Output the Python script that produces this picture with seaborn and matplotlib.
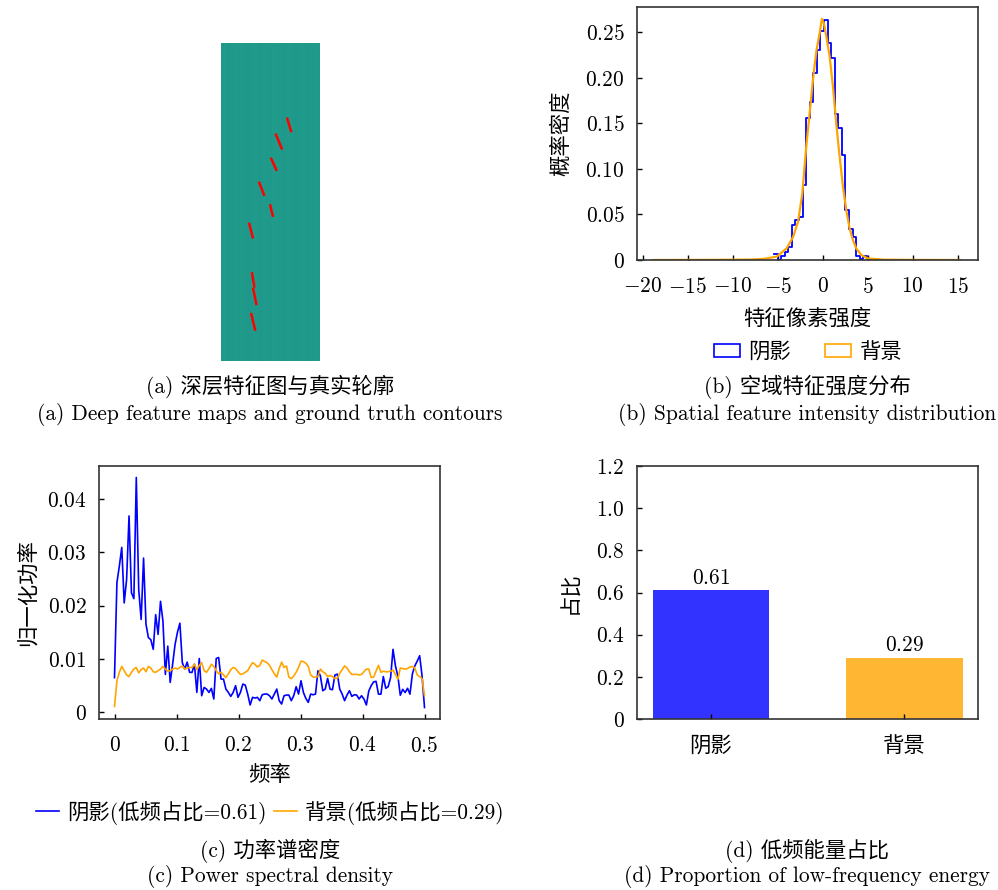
import numpy as np
import pandas as pd
import matplotlib
matplotlib.use('Agg')
import matplotlib.pyplot as plt
import seaborn as sns
from matplotlib.patches import Patch
from matplotlib.lines import Line2D
from matplotlib.ticker import FuncFormatter, MultipleLocator

# ---------------- data ----------------
# (a) feature map column profile (normalised intensity) and contour dashes
feature_col_profile = [0.54, 0.545, 0.535, 0.54, 0.545, 0.54, 0.55, 0.54, 0.535, 0.54,
                       0.545, 0.54, 0.535, 0.545, 0.54, 0.54, 0.545, 0.55, 0.54, 0.535,
                       0.54, 0.545, 0.54, 0.535, 0.54, 0.545, 0.54, 0.535, 0.54, 0.545, 0.54]
feature_rows = 100
contour_x0 = [20.76, 17.22, 15.75, 11.99, 15.44, 8.86, 9.71, 10.11, 9.49]
contour_x1 = [21.92, 19.00, 17.31, 13.46, 16.19, 9.93, 10.43, 11.05, 10.65]
contour_y0 = [23.75, 28.80, 36.40, 43.95, 51.10, 56.90, 72.50, 77.40, 85.30]
contour_y1 = [27.66, 33.10, 39.85, 47.73, 54.30, 61.10, 76.60, 82.10, 90.20]

# (b) spatial intensity distribution
shadow_bin_start = -5.41
shadow_bin_width = 0.397
shadow_density = [0.0066, 0.0, 0.0044, 0.0090, 0.0139, 0.0385, 0.0440, 0.0477, 0.0825,
                  0.1560, 0.1740, 0.2060, 0.2310, 0.2520, 0.2640, 0.2380, 0.2220, 0.1600,
                  0.1450, 0.1150, 0.0545, 0.0337, 0.0248, 0.0040, 0.0015, 0.0040, 0.0008]
bg_x = [-18.8, -12.0, -8.0, -6.6, -5.1, -4.0, -3.3, -2.74, -2.26, -1.82, -1.34, -1.08,
        -0.71, -0.34, -0.08, 0.14, 0.40, 0.77, 1.14, 1.51, 1.88, 2.25, 2.62, 2.99, 3.36,
        3.73, 4.29, 5.0, 6.7, 10.0, 15.3]
bg_density = [0.0, 0.0002, 0.0005, 0.0012, 0.0037, 0.0128, 0.025, 0.042, 0.073, 0.125,
              0.172, 0.198, 0.229, 0.249, 0.265, 0.260, 0.246, 0.224, 0.191, 0.150, 0.114,
              0.081, 0.055, 0.035, 0.022, 0.0128, 0.0055, 0.0018, 0.0004, 0.0001, 0.0]

# (c) normalised power spectral density (256-sample signal, 129 rfft bins)
psd_n = 256
psd_shadow = [
    0.0065, 0.0243, 0.0274, 0.0309, 0.0205, 0.0249, 0.0368, 0.0224, 0.0213, 0.0440,
    0.0230, 0.0174, 0.0289, 0.0165, 0.0140, 0.0136, 0.0118, 0.0183, 0.0146, 0.0208,
    0.0171, 0.0071, 0.0124, 0.0056, 0.0090, 0.0127, 0.0150, 0.0167, 0.0093, 0.0081,
    0.0094, 0.0075, 0.00747, 0.00902, 0.00373, 0.01008, 0.00311, 0.00466, 0.00435, 0.00373,
    0.00448, 0.00249, 0.01008, 0.01027, 0.00622, 0.00622, 0.00435, 0.00373, 0.00298, 0.00373,
    0.00498, 0.0028, 0.00373, 0.00529, 0.0051, 0.00342, 0.00137, 0.0028, 0.00267, 0.0028,
    0.00218, 0.00329, 0.00342, 0.00342, 0.00311, 0.00249, 0.00342, 0.00435, 0.00218, 0.00155,
    0.00311, 0.00323, 0.00323, 0.00218, 0.00311, 0.00479, 0.00342, 0.00591, 0.00373, 0.00261,
    0.00187, 0.00342, 0.00329, 0.00342, 0.00778, 0.00684, 0.00404, 0.00435, 0.00635, 0.00435,
    0.00423, 0.00697, 0.00716, 0.00435, 0.00342, 0.00218, 0.00323, 0.00404, 0.00298, 0.00329,
    0.00323, 0.00249, 0.00311, 0.00249, 0.00137, 0.0040, 0.0050, 0.0057, 0.0058, 0.0034,
    0.0034, 0.0067, 0.0045, 0.0048, 0.0065, 0.0118, 0.0087, 0.0068, 0.0032, 0.0043,
    0.0037, 0.0045, 0.0034, 0.0072, 0.0087, 0.0096, 0.0106, 0.0068, 0.0009]
psd_background = [
    0.0011, 0.0059, 0.0075, 0.0086, 0.0078, 0.0070, 0.0067, 0.0075, 0.0081, 0.0084,
    0.0074, 0.0080, 0.0083, 0.0076, 0.0086, 0.0083, 0.0076, 0.0075, 0.0078, 0.0081,
    0.0086, 0.0081, 0.0077, 0.0078, 0.0081, 0.0083, 0.0081, 0.0084, 0.0087, 0.0081,
    0.0083, 0.0084, 0.0084, 0.0090, 0.0080, 0.0088, 0.0093, 0.0078, 0.0075, 0.0082,
    0.0090, 0.0086, 0.0078, 0.0072, 0.0075, 0.0070, 0.0065, 0.0072, 0.0080, 0.0084,
    0.0082, 0.0076, 0.0071, 0.0072, 0.0075, 0.0078, 0.0086, 0.0093, 0.0090, 0.0085,
    0.0088, 0.0098, 0.0095, 0.0093, 0.0088, 0.0080, 0.0072, 0.0066, 0.0082, 0.0094,
    0.0084, 0.0087, 0.0066, 0.0063, 0.0068, 0.0075, 0.0084, 0.0096, 0.0095, 0.0092,
    0.0086, 0.0070, 0.0066, 0.0066, 0.0067, 0.0081, 0.0076, 0.0073, 0.0067, 0.0069,
    0.0067, 0.0063, 0.0064, 0.0073, 0.0080, 0.0087, 0.0083, 0.0076, 0.0071, 0.0071,
    0.0071, 0.0070, 0.0071, 0.0076, 0.0081, 0.0081, 0.0065, 0.0066, 0.0077, 0.0088,
    0.0075, 0.0077, 0.0076, 0.0076, 0.0077, 0.0079, 0.0071, 0.0062, 0.0083, 0.0082,
    0.0081, 0.0082, 0.0085, 0.0086, 0.0083, 0.0070, 0.0067, 0.0063, 0.0031]
low_freq_ratio = [0.61, 0.29]
class_labels = ['阴影', '背景']

# ---------------- style ----------------
plt.rcParams['font.family'] = ['cmr10', 'Noto Sans CJK SC']
plt.rcParams['mathtext.fontset'] = 'cm'
plt.rcParams['axes.formatter.use_mathtext'] = True
plt.rcParams['axes.unicode_minus'] = True
FS = 15.4
BLUE = '#0000ff'
ORANGE = '#ffa500'
SPINE = '#333333'

W, H = 998, 890
fig = plt.figure(figsize=(W / 100, H / 100), dpi=100)


def add_ax(l, t, r, b):
    return fig.add_axes([l / W, 1 - b / H, (r - l) / W, (b - t) / H])


def fmt(dec):
    def f(v, p):
        if abs(v) < 1e-12:
            return '$0$'
        return '$' + f'{v:.{dec}f}' + '$'
    return FuncFormatter(f)


def style(ax):
    for s in ax.spines.values():
        s.set_color(SPINE)
        s.set_linewidth(1.2)
    ax.tick_params(direction='in', length=3.5, width=1, colors='black',
                   labelsize=FS, top=False, right=False)
    ax.tick_params(axis='x', pad=12)
    ax.tick_params(axis='y', pad=9)
    ax.grid(False)


def caption(x, y, s):
    fig.text(x / W, 1 - y / H, s, ha='center', va='center', fontsize=FS)


# ---------------- (a) ----------------
axa = add_ax(221, 43.3, 320, 360.7)
fmap = np.tile(np.array(feature_col_profile), (feature_rows, 1))
sns.heatmap(fmap, ax=axa, cmap='viridis', vmin=0, vmax=1, cbar=False,
            xticklabels=False, yticklabels=False)
for x0, x1, y0, y1 in zip(contour_x0, contour_x1, contour_y0, contour_y1):
    axa.plot([x0, x1], [y0, y1], color='#ff0000', lw=1.8)
axa.set_axis_off()
caption(270, 387, '(a) 深层特征图与真实轮廓')
caption(270, 415, '(a) Deep feature maps and ground truth contours')

# ---------------- (b) ----------------
axb = add_ax(637, 7, 978, 260)
edges = [float(shadow_bin_start + shadow_bin_width * i) for i in range(len(shadow_density) + 1)]
centers = [(edges[i] + edges[i + 1]) / 2 for i in range(len(shadow_density))]
hist_df = pd.DataFrame({'value': centers, 'density': shadow_density})
sns.histplot(data=hist_df, x='value', weights='density', bins=edges, element='step',
             fill=False, color=BLUE, linewidth=1.3, ax=axb)
sns.lineplot(x=bg_x, y=bg_density, color=ORANGE, linewidth=1.6, ax=axb)
axb.set_xlim(-20.63, 17.26)
axb.set_ylim(0, 0.278)
axb.xaxis.set_major_locator(MultipleLocator(5))
axb.yaxis.set_major_locator(MultipleLocator(0.05))
axb.xaxis.set_major_formatter(fmt(0))
axb.yaxis.set_major_formatter(fmt(2))
axb.set_xlabel('特征像素强度', fontsize=FS, labelpad=8)
axb.set_ylabel('概率密度', fontsize=FS, labelpad=10)
style(axb)
hb = [Patch(facecolor='none', edgecolor=BLUE, lw=1.2),
      Patch(facecolor='none', edgecolor=ORANGE, lw=1.2)]
fig.legend(hb, class_labels, loc='center', bbox_to_anchor=(808 / W, 1 - 352 / H),
           ncol=2, frameon=False, fontsize=FS, handlelength=1.2, handleheight=0.55,
           columnspacing=1.6, handletextpad=0.4)
caption(807, 387, '(b) 空域特征强度分布')
caption(807, 415, '(b) Spatial feature intensity distribution')

# ---------------- (c) ----------------
axc = add_ax(99, 466, 440, 719)
freqs = np.fft.rfftfreq(psd_n)
psd_df = pd.DataFrame({'freq': freqs, 'shadow': psd_shadow, 'background': psd_background})
sns.lineplot(data=psd_df, x='freq', y='shadow', color=BLUE, linewidth=1.2, ax=axc)
sns.lineplot(data=psd_df, x='freq', y='background', color=ORANGE, linewidth=1.2, ax=axc)
axc.margins(x=0.05, y=0.05)
axc.set_xlim(-0.025, 0.525)
axc.xaxis.set_major_locator(MultipleLocator(0.1))
axc.yaxis.set_major_locator(MultipleLocator(0.01))
axc.xaxis.set_major_formatter(fmt(1))
axc.yaxis.set_major_formatter(fmt(2))
axc.set_xlabel('频率', fontsize=FS, labelpad=7)
axc.set_ylabel('归一化功率', fontsize=FS, labelpad=7)
style(axc)
hc = [Line2D([], [], color=BLUE, lw=1.2), Line2D([], [], color=ORANGE, lw=1.2)]
lc = [f'{class_labels[0]}(低频占比={low_freq_ratio[0]:.2f})',
      f'{class_labels[1]}(低频占比={low_freq_ratio[1]:.2f})']
fig.legend(hc, lc, loc='center', bbox_to_anchor=(270 / W, 1 - 813 / H),
           ncol=2, frameon=False, fontsize=FS, handlelength=1.1, columnspacing=0.35,
           handletextpad=0.35)
caption(270, 851, '(c) 功率谱密度')
caption(270, 877, '(c) Power spectral density')

# ---------------- (d) ----------------
axd = add_ax(637, 466, 978, 719)
bar_df = pd.DataFrame({'cls': class_labels, 'ratio': low_freq_ratio})
sns.barplot(data=bar_df, x='cls', y='ratio', hue='cls', legend=False,
            palette=[BLUE, ORANGE], alpha=0.8, width=0.6, saturation=1, ax=axd)
for i, v in enumerate(low_freq_ratio):
    axd.text(i, v + 0.012, f'${v:.2f}$', ha='center', va='bottom', fontsize=FS)
axd.set_xlim(-0.38, 1.38)
axd.set_ylim(0, 1.2)
axd.yaxis.set_major_locator(MultipleLocator(0.2))
axd.yaxis.set_major_formatter(fmt(1))
axd.set_xlabel('')
axd.set_ylabel('占比', fontsize=FS, labelpad=11)
style(axd)
caption(807, 851, '(d) 低频能量占比')
caption(807, 877, '(d) Proportion of low-frequency energy')

fig.savefig('out.png', dpi=100)
